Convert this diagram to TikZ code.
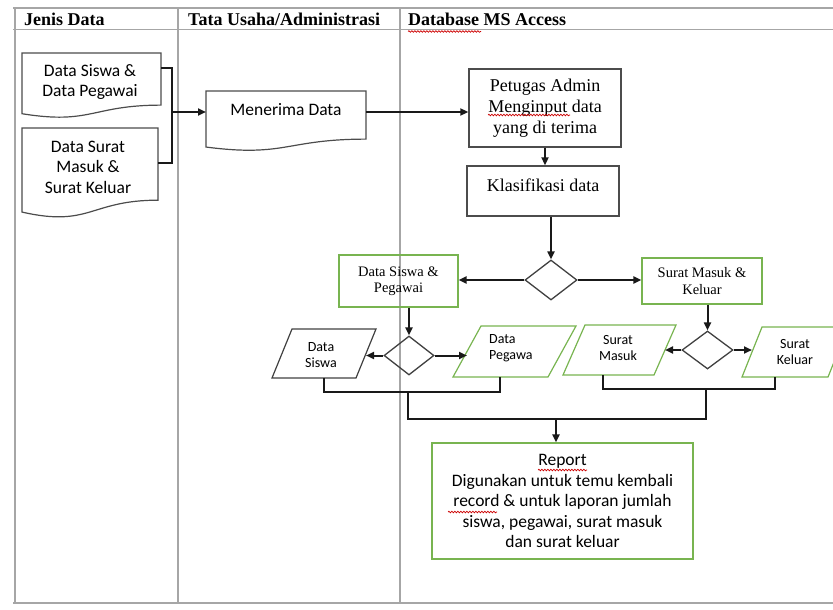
\documentclass[tikz,border=0pt]{standalone}
\usepackage{fontspec}
\setmainfont{Liberation Serif}
\newfontfamily\calib{Carlito}
\usetikzlibrary{arrows.meta,calc,shapes.geometric,decorations.pathmorphing}
\definecolor{gbox}{RGB}{120,180,80}
\newcommand\docpath[1]{%
  \draw[docline] (#1.north west) -- (#1.north east) -- ($(#1.north east)!0.802!(#1.south east)$)
   .. controls ($(#1.north)!0.802!(#1.south)$) and ($(#1.north)!1.107!(#1.south)$) ..
   ($(#1.north west)!0.934!(#1.south west)$) -- cycle;}
\newcommand\parapath[3]{%
  \draw[#3] ($(#1.north west)+(#2/2,0)$) -- ($(#1.north east)+(#2/2,0)$) --
   ($(#1.south east)+(-#2/2,0)$) -- ($(#1.south west)+(-#2/2,0)$) -- cycle;}
\begin{document}
\begin{tikzpicture}[x=1pt,y=-1pt,
  lane/.style={draw=gray!70, line width=1.8pt},
  docline/.style={draw=black!70, line width=1.2pt},
  blank/.style={inner sep=0pt, outer sep=0pt},
  boxb/.style={draw=black!70, line width=1.4pt, inner sep=0pt},
  boxg/.style={draw=gbox, line width=1.2pt, inner sep=0pt, align=center},
  parg/.style={draw=gbox, line width=1.2pt},
  park/.style={draw=black!75, line width=1.2pt},
  dia/.style={diamond, draw=black!75, line width=1.3pt, inner sep=0pt, aspect=1.3},
  hdr/.style={font=\fontsize{18}{20}\selectfont\bfseries, inner sep=0pt},
  sansL/.style={font=\fontsize{17.5}{20.5}\calib, align=center, inner sep=0pt},
  sansS/.style={font=\fontsize{14}{16}\calib, align=center, inner sep=0pt},
  serifL/.style={font=\fontsize{18}{21}\selectfont, align=center, inner sep=0pt},
  serifS/.style={font=\fontsize{14.5}{16.5}\selectfont, align=center, inner sep=0pt},
  conn/.style={draw=black!90, line width=2pt},
  arr/.style={conn, -{Triangle[length=8pt,width=7pt]}},
  squig/.style={draw=red!80!black, line width=0.7pt, decorate, decoration={snake, amplitude=0.8pt, segment length=3pt}}
]
\useasboundingbox (0,0) rectangle (833,610);
\clip (0,0) rectangle (833,610);
% lanes
\draw[lane] (13,8) -- (833,8);
\draw[lane] (13,29.5) -- (833,29.5);
\draw[lane] (15,8) -- (15,603);
\draw[lane] (13,603) -- (833,603);
\draw[lane] (178,8) -- (178,603);
\draw[lane] (400,8) -- (400,603);
\node[hdr, anchor=west] (h1) at (24,19) {Jenis Data};
\node[hdr, anchor=west] (h2) at (188,19) {Tata Usaha/Administrasi};
\node[hdr, anchor=west] (h3) at (408,19) {Database MS Access};
\draw[squig] (408,31.5) -- (481,31.5);
% documents
\node[blank, minimum width=139, minimum height=65] (d1) at (91.5,85.5) {};
\docpath{d1}
\node[sansL] (d1t) at (90,82) {Data Siswa \&\\Data Pegawai};
\node[blank, minimum width=136, minimum height=90] (d2) at (90,173) {};
\docpath{d2}
\node[sansL] (d2t) at (88,167) {Data Surat\\Masuk \&\\Surat Keluar};
\node[blank, minimum width=160, minimum height=60] (men) at (286,121) {};
\docpath{men}
\node[sansL] (ment) at (286,110) {Menerima Data};
% process boxes
\node[boxb, minimum width=152, minimum height=78, serifL] (pet) at (545,108) {Petugas Admin\\Menginput data\\yang di terima};
\draw[squig] (488,115) -- (570,115);
\node[boxb, minimum width=152, minimum height=50] (klas) at (543,191) {};
\node[serifL] (klast) at (543,185) {Klasifikasi data};
% decisions
\node[dia, minimum width=52, minimum height=40] (dm1) at (551,280) {};
\node[boxg, minimum width=119, minimum height=52, serifS] (dsp) at (398.5,281) {Data Siswa \&\\Pegawai};
\node[boxg, minimum width=120, minimum height=46, serifS] (smk) at (702,281) {Surat Masuk \&\\Keluar};
\node[dia, minimum width=50, minimum height=39] (dm2) at (409,355.5) {};
\node[dia, minimum width=51, minimum height=38] (dm3) at (707.5,350) {};
% parallelograms
\node[blank, minimum width=84, minimum height=49] (ps) at (324,353.5) {};
\parapath{ps}{20}{park}
\node[sansS] (pst) at (321,355) {Data\\Siswa};
\node[blank, minimum width=95, minimum height=51] (pp) at (514.5,351.5) {};
\parapath{pp}{28}{parg}
\node[sansS, align=left, anchor=west] (ppt) at (489,348) {Data\\Pegawa};
\node[blank, minimum width=91, minimum height=50] (pm) at (619.5,350) {};
\parapath{pm}{22}{parg}
\node[sansS] (pmt) at (618,348.5) {Surat\\Masuk};
\node[blank, minimum width=86, minimum height=50] (pk) at (795,352) {};
\parapath{pk}{20}{parg}
\node[sansS] (pkt) at (795,352) {Surat\\Keluar};
% report
\node[boxg, minimum width=261, minimum height=116, sansL] (rep) at (562.5,501) {Report\\Digunakan untuk temu kembali\\record \& untuk laporan jumlah\\siswa, pegawai, surat masuk\\dan surat keluar};
\draw[squig] (538,470) -- (587,470);
\draw[squig] (448,512) -- (497,512);
% connectors
\coordinate (j1) at (172,112);
\draw[conn] ($(d1.north east)+(0,15)$) -| (j1) |- ($(d2.north east)+(0,35)$);
\draw[arr] (j1) -- (men.west |- j1);
\draw[arr] (men.east |- j1) -- (pet.west |- j1);
\draw[arr] (pet.south) -- (pet.south |- klas.north);
\draw[arr] (klas.south -| dm1.north) -- (dm1.north);
\draw[arr] (dm1.west) -- (dsp.east |- dm1.west);
\draw[arr] (dm1.east) -- (smk.west |- dm1.east);
\draw[arr] (dsp.south -| dm2.north) -- (dm2.north);
\draw[arr] (dm2.west) -- (ps.east |- dm2.west);
\draw[arr] (dm2.east) -- (pp.west |- dm2.east);
\draw[arr] (smk.south -| dm3.north) -- (dm3.north);
\draw[arr] (dm3.west) -- (pm.east |- dm3.west);
\draw[arr] (dm3.east) -- (pk.west |- dm3.east);
\draw[conn] (ps.south) -- ++(0,14) -| ($(pp.south)+(-15,0)$);
\draw[conn] ($(pm.south)+(-17,0)$) -- ++(0,14) -| ($(pk.south)+(-20,0)$);
\coordinate (jl) at (408,392);
\coordinate (jr) at (706,389);
\coordinate (jb) at (556,419);
\draw[conn] (jl) |- (jb) -| (jr);
\draw[arr] (jb) -- (rep.north -| jb);
\end{tikzpicture}
\end{document}
